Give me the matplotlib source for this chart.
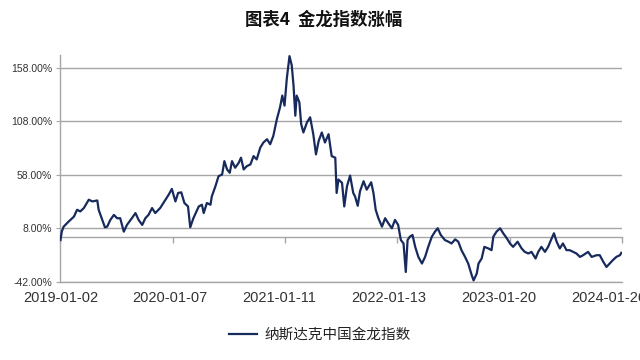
import matplotlib
matplotlib.use("Agg")
import matplotlib.pyplot as plt
from matplotlib.ticker import FixedLocator, FuncFormatter

plt.rcParams['font.family'] = ['Noto Sans CJK SC', 'DejaVu Sans']

# trading-day index (category position) and cumulative change (%)
day_index = [0, 3, 7, 18, 30, 37, 44, 52, 63, 71, 82, 85, 93, 99, 104, 111, 119, 126, 133, 141,
             148, 159, 167, 174, 182, 189, 196, 204, 211, 222, 234, 241, 248, 256, 262, 269, 276, 284, 289, 296,
             308, 315, 319, 326, 334, 337, 345, 352, 360, 365, 371, 377, 382, 389, 397, 402, 408, 415, 423, 430,
             437, 445, 452, 460, 467, 474, 482, 489, 494, 499, 504, 510, 515, 519, 523, 526, 532, 536, 541, 549,
             556, 563, 569, 575, 582, 589, 597, 604, 612, 615, 619, 627, 632, 638, 645, 652, 656, 662, 667, 675,
             682, 692, 697, 702, 708, 716, 723, 730, 738, 745, 752, 758, 764, 769, 773, 778, 784, 790, 797, 805,
             812, 819, 827, 834, 840, 847, 856, 864, 871, 879, 886, 893, 901, 908, 916, 920, 927, 931, 938, 944,
             953, 960, 964, 971, 979, 986, 994, 1001, 1008, 1018, 1027, 1034, 1042, 1049, 1058, 1064, 1071, 1079, 1086, 1094,
             1099, 1105, 1112, 1119, 1127, 1134, 1142, 1149, 1157, 1164, 1175, 1183, 1194, 1201, 1209, 1216, 1223, 1230, 1238, 1246,
             1249]
pct_change = [-3.0, 5.0, 9.5, 14.2, 18.9, 25.3, 23.7, 26.9, 34.7, 33.1, 34.0, 25.3, 15.8, 8.9, 9.5, 15.8, 20.5, 17.4, 17.4, 4.8,
              11.1, 17.4, 22.2, 15.8, 11.1, 17.4, 20.5, 26.9, 22.2, 26.9, 34.7, 39.4, 44.8, 33.1, 41.0, 41.6, 31.6, 28.4, 8.9, 17.4,
              28.4, 30.0, 22.2, 31.6, 30.0, 37.8, 47.2, 56.7, 58.3, 70.8, 63.0, 59.9, 70.8, 64.6, 69.3, 74.0, 63.0, 66.1, 67.7, 75.5,
              72.4, 83.5, 88.2, 91.3, 86.6, 94.4, 110.2, 121.2, 132.1, 122.7, 147.9, 169.0, 160.5, 141.6, 113.3, 132.1, 125.9, 105.5, 97.6, 107.1,
              111.8, 96.0, 77.1, 89.7, 97.6, 88.2, 96.0, 75.5, 74.0, 41.0, 53.6, 50.5, 28.4, 47.2, 57.3, 41.0, 37.8, 29.0, 42.5, 52.0,
              44.1, 51.0, 41.0, 25.3, 17.4, 9.5, 17.4, 12.7, 8.0, 15.8, 11.1, -3.0, -6.2, -32.9, -3.0, 0.1, 1.7, -9.4, -18.8, -25.0,
              -18.8, -9.4, 0.1, 4.8, 8.0, 1.7, -3.0, -4.6, -6.2, -2.4, -4.6, -12.5, -18.8, -25.0, -36.1, -40.8, -34.5, -25.0, -20.3, -9.4,
              -10.9, -12.5, 0.1, 4.8, 8.0, 3.3, -1.4, -6.2, -9.4, -4.6, -10.9, -14.1, -15.6, -14.1, -20.3, -14.1, -9.4, -14.1, -9.4, -1.4,
              3.3, -4.6, -10.9, -6.2, -12.5, -12.5, -14.1, -15.6, -18.8, -17.2, -14.1, -18.8, -17.2, -17.2, -23.5, -28.2, -25.0, -21.9, -18.8, -17.2,
              -15.0]

x_label_pos = [0, 244, 488, 732, 976, 1220]
x_labels = ["2019-01-02", "2020-01-07", "2021-01-11", "2022-01-13", "2023-01-20", "2024-01-26"]
x_tick_pos = [0, 250, 500, 750, 1000, 1250]
y_ticks = [-42, 8, 58, 108, 158]
y_min, y_max = -42, 170
x_max = 1250

series_name = "纳斯达克中国金龙指数"
title = "图表4  金龙指数涨幅"

line_color = "#172a5c"
grid_color = "#a6a6a6"

fig = plt.figure(figsize=(6.4, 3.6), dpi=100)
ax = fig.add_axes([0.0945, 0.2175, 0.9715 - 0.0945, 0.847 - 0.2175])

ax.plot(day_index, pct_change, color=line_color, lw=1.6, label=series_name, zorder=3)

ax.set_xlim(0, x_max)
ax.set_ylim(y_min, y_max)

ax.yaxis.set_major_locator(FixedLocator(y_ticks))
ax.yaxis.set_major_formatter(FuncFormatter(lambda v, p: f"{v:.2f}%"))
ax.yaxis.grid(True, color=grid_color, lw=1.0)
ax.set_axisbelow(True)
ax.tick_params(axis='y', direction='out', length=3, width=0.8, color=grid_color,
               labelsize=7.5, labelcolor="#333333", pad=3)
for lbl in ax.get_yticklabels():
    lbl.set_family(['Liberation Sans', 'DejaVu Sans'])

ax.set_xticks(x_label_pos)
ax.set_xticklabels(x_labels)
ax.tick_params(axis='x', length=0, labelsize=10.5, labelcolor="#333333", pad=7)
for lbl in ax.get_xticklabels():
    lbl.set_family(['Liberation Sans', 'DejaVu Sans'])

for s in ['top', 'right']:
    ax.spines[s].set_visible(False)
ax.spines['left'].set_color(grid_color)
ax.spines['left'].set_linewidth(1.0)
ax.spines['bottom'].set_color(grid_color)
ax.spines['bottom'].set_linewidth(1.0)

# category axis crossing at 0 with downward tick marks
zero_loc = (0 - y_min) / (y_max - y_min)
sec = ax.secondary_xaxis(zero_loc)
sec.set_xticks(x_tick_pos)
sec.set_xticklabels([''] * len(x_tick_pos))
sec.tick_params(direction='out', length=4, width=1.0, color=grid_color)
sec.spines['bottom'].set_color(grid_color)
sec.spines['bottom'].set_linewidth(1.0)

fig.text(0.505, 0.944, title, ha='center', va='center', fontsize=12.5, fontweight='bold', color="#111111")

fig.legend(loc='center', bbox_to_anchor=(0.5, 0.07), frameon=False, fontsize=10.5,
           handlelength=1.9, handletextpad=0.5, labelcolor="#222222")

fig.savefig("out.png", dpi=100)
